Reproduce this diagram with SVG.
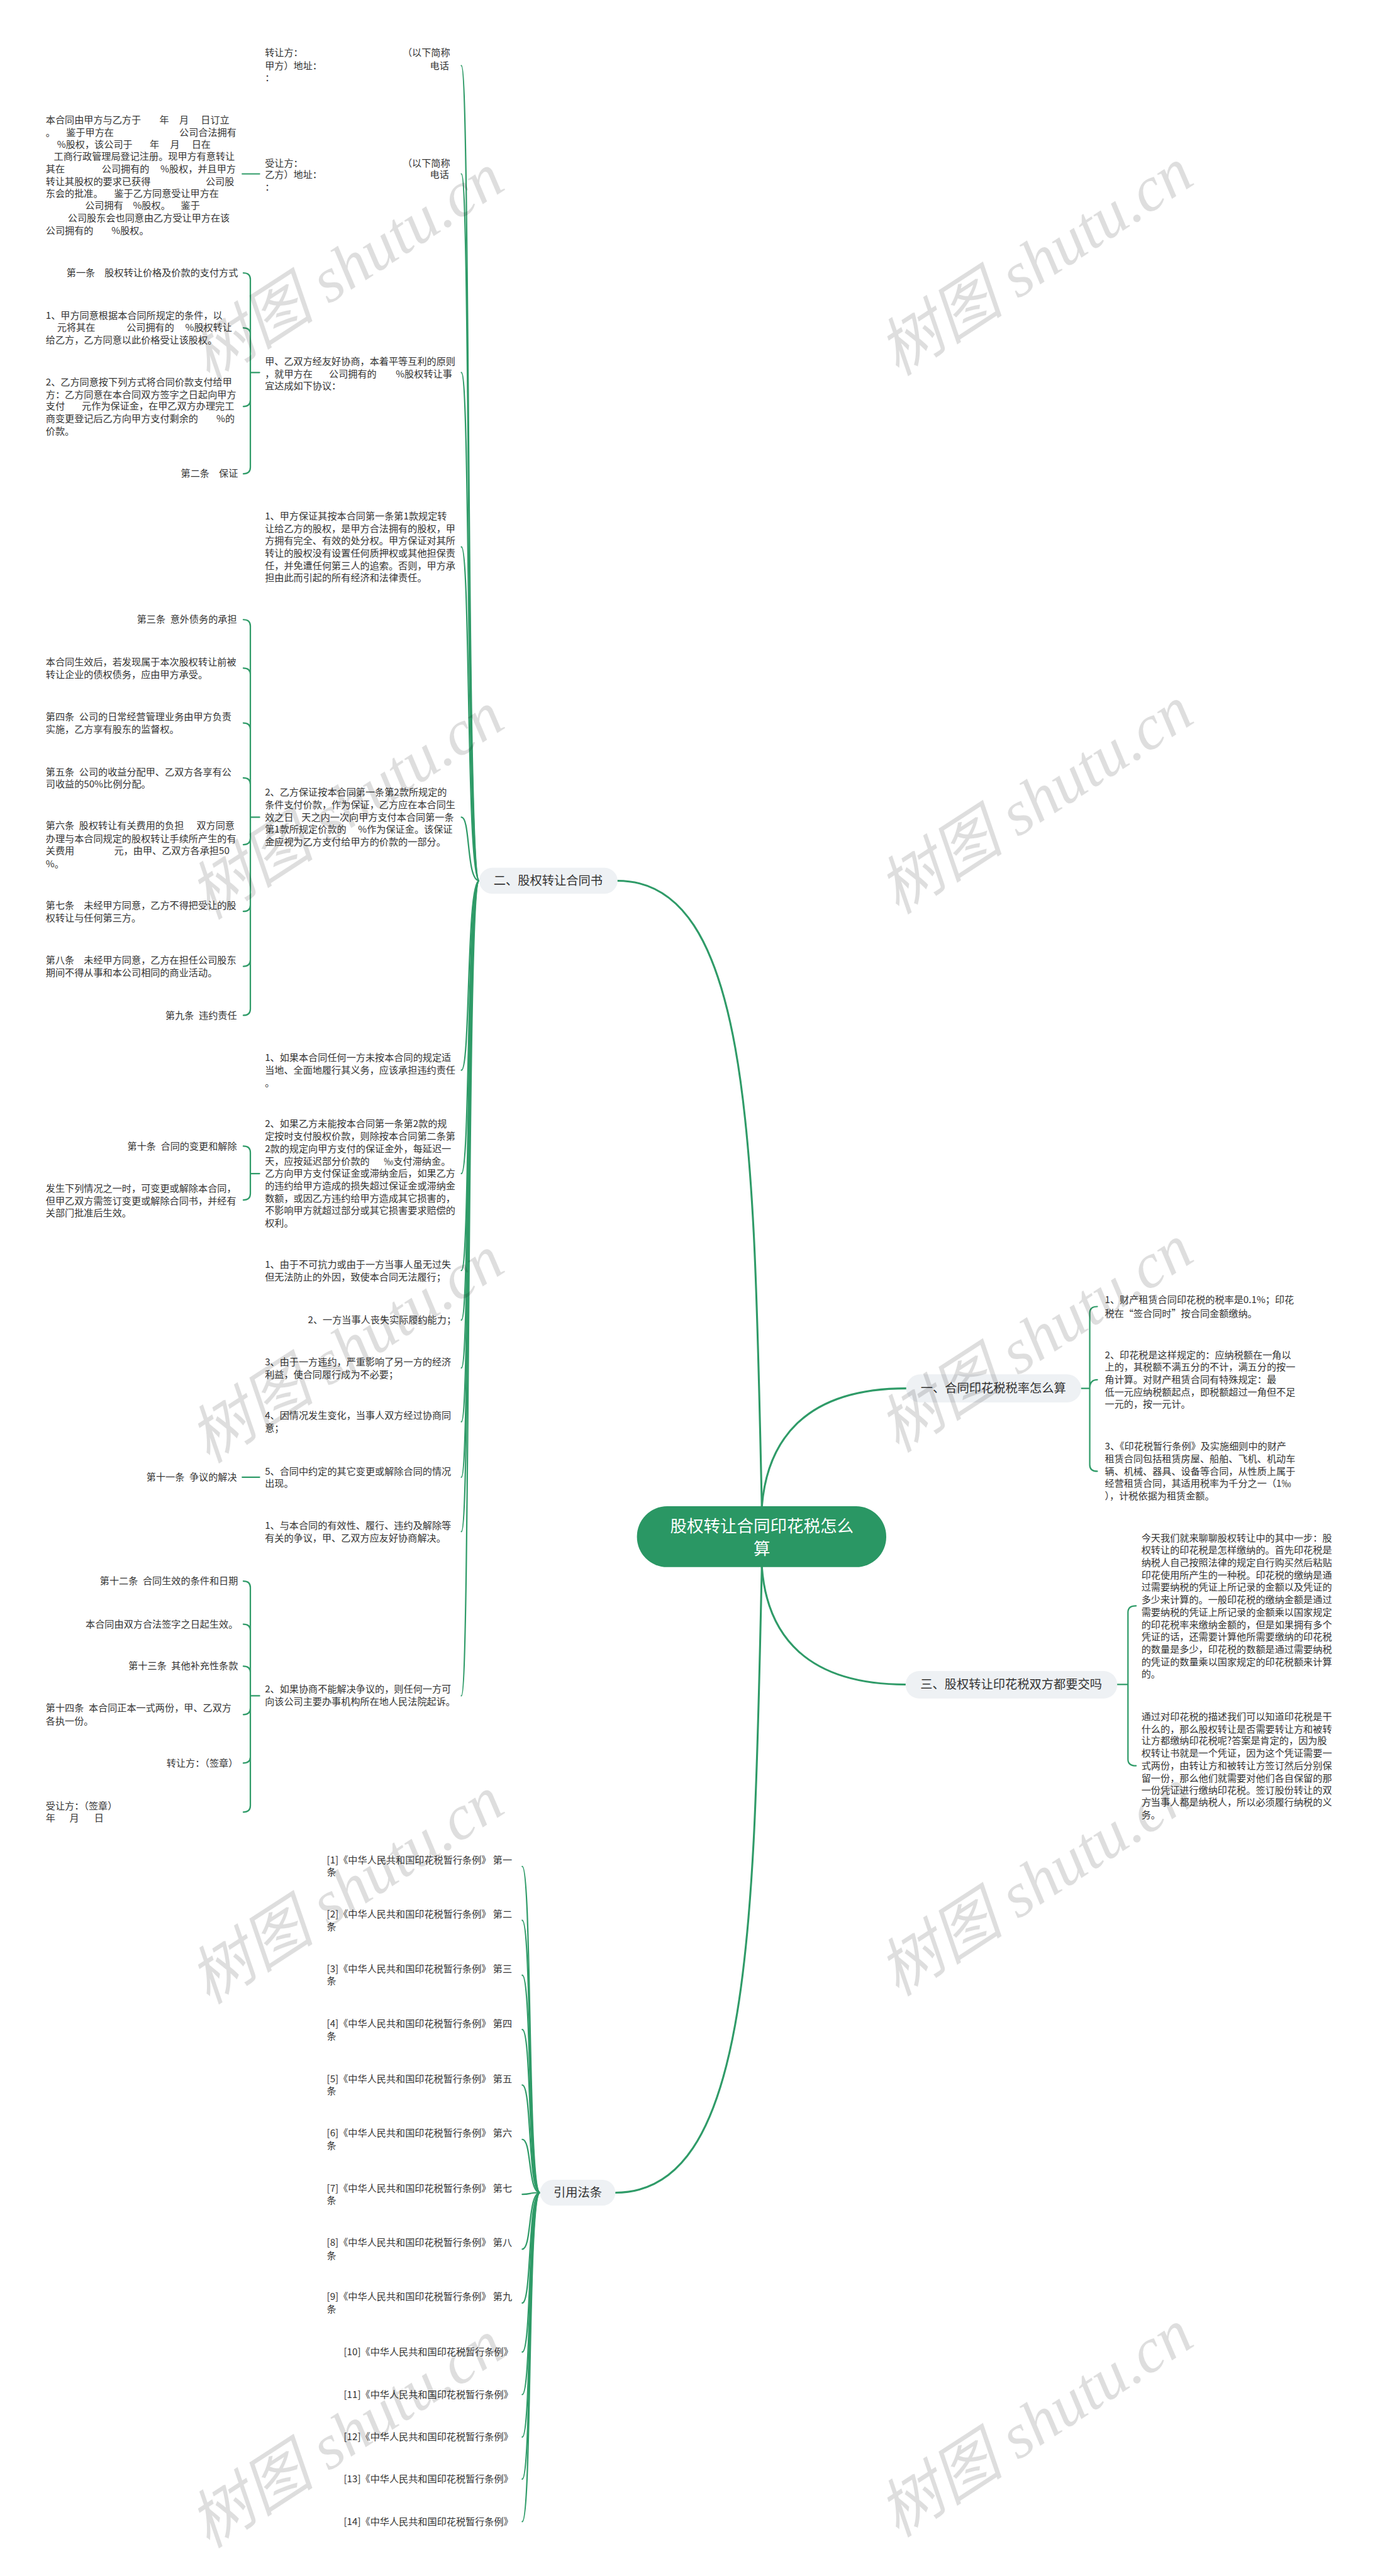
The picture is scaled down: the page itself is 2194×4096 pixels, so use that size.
<svg xmlns="http://www.w3.org/2000/svg" width="2194" height="4096" viewBox="0 0 2194 4096">
<style>
.t{font-family:"Noto Sans CJK SC","Noto Sans",sans-serif;font-size:17.7px;fill:#333}
.e{text-anchor:end}
.pl{fill:#eef1f4}
.pt{font-family:"Noto Sans CJK SC","Noto Sans",sans-serif;font-size:22.5px;fill:#333;text-anchor:middle}
.tt{font-family:"Noto Sans CJK SC","Noto Sans",sans-serif;font-size:31px;fill:#fff;text-anchor:middle}
.c{stroke:#2f9b68;stroke-width:2.6;fill:none;stroke-linecap:round}
.m{stroke-width:3.6}
.wm{font-family:"Liberation Serif","Noto Sans CJK SC",serif;font-size:118px;font-style:italic;fill:#000;fill-opacity:.13;text-anchor:middle}
</style>
<rect width="2194" height="4096" fill="#fff"/>
<g transform="scale(0.856)">
<g id="connectors">
<path class="c m" d="M1415 2798C1400 2150 1400 1636 1147 1636"/>
<path class="c m" d="M1415 2911C1400 3560 1400 4073 1143 4073"/>
<path class="c m" d="M1415 2798C1425 2680 1490 2579 1683 2579"/>
<path class="c m" d="M1415 2911C1425 3040 1500 3129 1682 3129"/>
<path class="c" d="M890 1636C866 1636 874 122 857 122"/>
<path class="c" d="M890 1636C866 1636 874 323 857 323"/>
<path class="c" d="M890 1636C866 1636 874 692 857 692"/>
<path class="c" d="M890 1636C866 1636 874 1016 857 1016"/>
<path class="c" d="M890 1636C866 1636 874 1518 857 1518"/>
<path class="c" d="M890 1636C866 1636 874 1988 857 1988"/>
<path class="c" d="M890 1636C866 1636 874 2180 857 2180"/>
<path class="c" d="M890 1636C866 1636 874 2360 857 2360"/>
<path class="c" d="M890 1636C866 1636 874 2452 857 2452"/>
<path class="c" d="M890 1636C866 1636 874 2541 857 2541"/>
<path class="c" d="M890 1636C866 1636 874 2641 857 2641"/>
<path class="c" d="M890 1636C866 1636 874 2744 857 2744"/>
<path class="c" d="M890 1636C866 1636 874 2845 857 2845"/>
<path class="c" d="M890 1636C866 1636 874 3150 857 3150"/>
<path class="c" d="M450 323H482"/>
<path class="c" d="M450 2744H482"/>
<path class="c" d="M482 692H465M465 692V519Q465 507 452 507M465 692V621Q465 609 452 609M465 692V743Q465 755 452 755M465 692V868Q465 880 452 880"/>
<path class="c" d="M482 1518H465M465 1518V1163Q465 1151 452 1151M465 1518V1253Q465 1241 452 1241M465 1518V1355Q465 1343 452 1343M465 1518V1457Q465 1445 452 1445M465 1518V1557Q465 1569 452 1569M465 1518V1681Q465 1693 452 1693M465 1518V1783Q465 1795 452 1795M465 1518V1874Q465 1886 452 1886"/>
<path class="c" d="M482 2180H465M465 2180V2141Q465 2129 452 2129M465 2180V2217Q465 2229 452 2229"/>
<path class="c" d="M482 3150H465M465 3150V2949Q465 2937 452 2937M465 3150V3029Q465 3017 452 3017M465 3150V3107Q465 3095 452 3095M465 3150V3173Q465 3185 452 3185M465 3150V3263Q465 3275 452 3275M465 3150V3354Q465 3366 452 3366"/>
<path class="c" d="M2008 2579H2024M2024 2579V2439Q2024 2427 2038 2427M2024 2579Q2024 2563 2038 2563M2024 2579V2721Q2024 2733 2038 2733"/>
<path class="c" d="M2075 3129H2095M2095 3129V2995Q2095 2983 2110 2983M2095 3129V3268Q2095 3280 2110 3280"/>
<path class="c" d="M1003 4073C980 4073 988 3467 970 3467"/>
<path class="c" d="M1003 4073C980 4073 988 3567 970 3567"/>
<path class="c" d="M1003 4073C980 4073 988 3669 970 3669"/>
<path class="c" d="M1003 4073C980 4073 988 3770 970 3770"/>
<path class="c" d="M1003 4073C980 4073 988 3873 970 3873"/>
<path class="c" d="M1003 4073C980 4073 988 3974 970 3974"/>
<path class="c" d="M1003 4073C980 4073 988 4076 970 4076"/>
<path class="c" d="M1003 4073C980 4073 988 4178 970 4178"/>
<path class="c" d="M1003 4073C980 4073 988 4278 970 4278"/>
<path class="c" d="M1003 4073C980 4073 988 4369 970 4369"/>
<path class="c" d="M1003 4073C980 4073 988 4448 970 4448"/>
<path class="c" d="M1003 4073C980 4073 988 4527 970 4527"/>
<path class="c" d="M1003 4073C980 4073 988 4605 970 4605"/>
<path class="c" d="M1003 4073C980 4073 988 4684 970 4684"/>
</g>

<g id="root">
<rect x="1183" y="2798" width="463" height="113" rx="56" fill="#2a9764"/>
<text class="tt" x="1415" y="2846">股权转让合同印花税怎么</text>
<text class="tt" x="1415" y="2888">算</text>
</g>
<g id="b2"><rect class="pl" x="890" y="1612" width="257" height="48" rx="24"/><text class="pt" x="1018" y="1644">二、股权转让合同书</text></g>
<g id="b1"><rect class="pl" x="1683" y="2553" width="325" height="52" rx="26"/><text class="pt" x="1845" y="2587">一、合同印花税税率怎么算</text></g>
<g id="b3"><rect class="pl" x="1682" y="3104" width="393" height="51" rx="25"/><text class="pt" x="1878" y="3137">三、股权转让印花税双方都要交吗</text></g>
<g id="b4"><rect class="pl" x="1003" y="4049" width="140" height="48" rx="24"/><text class="pt" x="1073" y="4081">引用法条</text></g>

<g id="n-a">
<text class="t" x="492" y="104">转让方：</text><text class="t e" x="836" y="104">（以下简称</text>
<text class="t" x="492" y="128">甲方）地址：</text><text class="t e" x="834" y="128">电话</text>
<text class="t" x="492" y="151">：</text>
</g>
<g id="n-b">
<text class="t" x="492" y="309">受让方：</text><text class="t e" x="836" y="309">（以下简称</text>
<text class="t" x="492" y="331">乙方）地址：</text><text class="t e" x="834" y="331">电话</text>
<text class="t" x="492" y="354">：</text>
</g>
<g id="n-c">
<text class="t" y="229"><tspan x="85">本合同由甲方与乙方于</tspan><tspan x="296">年</tspan><tspan x="333">月</tspan><tspan x="373">日订立</tspan></text>
<text class="t" y="252"><tspan x="85">。</tspan><tspan x="123">鉴于甲方在</tspan><tspan x="333">公司合法拥有</tspan></text>
<text class="t" y="274"><tspan x="106">%股权，该公司于</tspan><tspan x="278">年</tspan><tspan x="316">月</tspan><tspan x="356">日在</tspan></text>
<text class="t" x="100" y="297">工商行政管理局登记注册。现甲方有意转让</text>
<text class="t" y="320"><tspan x="85">其在</tspan><tspan x="189">公司拥有的</tspan><tspan x="298">%股权，并且甲方</tspan></text>
<text class="t" y="343"><tspan x="85">转让其股权的要求已获得</tspan><tspan x="382">公司股</tspan></text>
<text class="t" y="366"><tspan x="85">东会的批准。</tspan><tspan x="212">鉴于乙方同意受让甲方在</tspan></text>
<text class="t" y="388"><tspan x="158">公司拥有</tspan><tspan x="247">%股权。</tspan><tspan x="336">鉴于</tspan></text>
<text class="t" x="126" y="411">公司股东会也同意由乙方受让甲方在该</text>
<text class="t" y="434"><tspan x="85">公司拥有的</tspan><tspan x="207">%股权。</tspan></text>
</g>
<g id="n-d">
<text class="t" x="492" y="678">甲、乙双方经友好协商，本着平等互利的原则</text>
<text class="t" y="701"><tspan x="492">，就甲方在</tspan><tspan x="611">公司拥有的</tspan><tspan x="735">%股权转让事</tspan></text>
<text class="t" x="492" y="723">宜达成如下协议：</text>
</g>
<g id="n-d1"><text class="t e" x="442" y="513">第一条　股权转让价格及价款的支付方式</text></g>
<g id="n-d2">
<text class="t" x="85" y="592">1、甲方同意根据本合同所规定的条件，以</text>
<text class="t" y="615"><tspan x="106">元将其在</tspan><tspan x="235">公司拥有的</tspan><tspan x="344">%股权转让</tspan></text>
<text class="t" x="85" y="638">给乙方，乙方同意以此价格受让该股权。</text>
</g>
<g id="n-d3">
<text class="t" x="85" y="716">2、乙方同意按下列方式将合同价款支付给甲</text>
<text class="t" x="85" y="739">方：乙方同意在本合同双方签字之日起向甲方</text>
<text class="t" y="761"><tspan x="85">支付</tspan><tspan x="152">元作为保证金，在甲乙双方办理完工</tspan></text>
<text class="t" y="784"><tspan x="85">商变更登记后乙方向甲方支付剩余的</tspan><tspan x="402">%的</tspan></text>
<text class="t" x="85" y="807">价款。</text>
</g>
<g id="n-d4"><text class="t e" x="442" y="886">第二条　保证</text></g>
<g id="n-e">
<text class="t" x="492" y="965">1、甲方保证其按本合同第一条第1款规定转</text>
<text class="t" x="492" y="988">让给乙方的股权，是甲方合法拥有的股权，甲</text>
<text class="t" x="492" y="1011">方拥有完全、有效的处分权。甲方保证对其所</text>
<text class="t" x="492" y="1034">转让的股权没有设置任何质押权或其他担保责</text>
<text class="t" x="492" y="1057">任，并免遭任何第三人的追索。否则，甲方承</text>
<text class="t" x="492" y="1080">担由此而引起的所有经济和法律责任。</text>
</g>
<g id="n-f">
<text class="t" x="492" y="1478">2、乙方保证按本合同第一条第2款所规定的</text>
<text class="t" x="492" y="1501">条件支付价款，作为保证，乙方应在本合同生</text>
<text class="t" y="1524"><tspan x="492">效之日</tspan><tspan x="560">天之内一次向甲方支付本合同第一条</tspan></text>
<text class="t" y="1547"><tspan x="492">第1款所规定价款的</tspan><tspan x="665">%作为保证金。该保证</tspan></text>
<text class="t" x="492" y="1570">金应视为乙方支付给甲方的价款的一部分。</text>
</g>
<g id="n-f1"><text class="t e" x="440" y="1157">第三条&#8194;意外债务的承担</text></g>
<g id="n-f2">
<text class="t" x="85" y="1236">本合同生效后，若发现属于本次股权转让前被</text>
<text class="t" x="85" y="1259">转让企业的债权债务，应由甲方承受。</text>
</g>
<g id="n-f3">
<text class="t" x="85" y="1338">第四条&#8194;公司的日常经营管理业务由甲方负责</text>
<text class="t" x="85" y="1361">实施，乙方享有股东的监督权。</text>
</g>
<g id="n-f4">
<text class="t" x="85" y="1440">第五条&#8194;公司的收益分配甲、乙双方各享有公</text>
<text class="t" x="85" y="1463">司收益的50%比例分配。</text>
</g>
<g id="n-f5">
<text class="t" y="1540"><tspan x="85">第六条&#8194;股权转让有关费用的负担</tspan><tspan x="365">双方同意</tspan></text>
<text class="t" x="85" y="1564">办理与本合同规定的股权转让手续所产生的有</text>
<text class="t" y="1587"><tspan x="85">关费用</tspan><tspan x="212">元，由甲、乙双方各承担50</tspan></text>
<text class="t" x="85" y="1611">%。</text>
</g>
<g id="n-f6">
<text class="t" x="85" y="1688">第七条　未经甲方同意，乙方不得把受让的股</text>
<text class="t" x="85" y="1711">权转让与任何第三方。</text>
</g>
<g id="n-f7">
<text class="t" x="85" y="1790">第八条　未经甲方同意，乙方在担任公司股东</text>
<text class="t" x="85" y="1813">期间不得从事和本公司相同的商业活动。</text>
</g>
<g id="n-f8"><text class="t e" x="440" y="1892">第九条&#8194;违约责任</text></g>
<g id="n-g">
<text class="t" x="492" y="1971">1、如果本合同任何一方未按本合同的规定适</text>
<text class="t" x="492" y="1994">当地、全面地履行其义务，应该承担违约责任</text>
<text class="t" x="492" y="2017">。</text>
</g>
<g id="n-h">
<text class="t" x="492" y="2094">2、如果乙方未能按本合同第一条第2款的规</text>
<text class="t" x="492" y="2117">定按时支付股权价款，则除按本合同第二条第</text>
<text class="t" x="492" y="2140">2款的规定向甲方支付的保证金外，每延迟一</text>
<text class="t" y="2163"><tspan x="492">天，应按延迟部分价款的</tspan><tspan x="713">‰支付滞纳金。</tspan></text>
<text class="t" x="492" y="2186">乙方向甲方支付保证金或滞纳金后，如果乙方</text>
<text class="t" x="492" y="2209">的违约给甲方造成的损失超过保证金或滞纳金</text>
<text class="t" x="492" y="2232">数额，或因乙方违约给甲方造成其它损害的，</text>
<text class="t" x="492" y="2255">不影响甲方就超过部分或其它损害要求赔偿的</text>
<text class="t" x="492" y="2278">权利。</text>
</g>
<g id="n-h1"><text class="t e" x="440" y="2135">第十条&#8194;合同的变更和解除</text></g>
<g id="n-h2">
<text class="t" x="85" y="2214">发生下列情况之一时，可变更或解除本合同，</text>
<text class="t" x="85" y="2237">但甲乙双方需签订变更或解除合同书，并经有</text>
<text class="t" x="85" y="2259">关部门批准后生效。</text>
</g>
<g id="n-i">
<text class="t" x="492" y="2355">1、由于不可抗力或由于一方当事人虽无过失</text>
<text class="t" x="492" y="2378">但无法防止的外因，致使本合同无法履行；</text>
</g>
<g id="n-j"><text class="t e" x="847" y="2458">2、一方当事人丧失实际履约能力；</text></g>
<g id="n-k">
<text class="t" x="492" y="2536">3、由于一方违约，严重影响了另一方的经济</text>
<text class="t" x="492" y="2559">利益，使合同履行成为不必要；</text>
</g>
<g id="n-l">
<text class="t" x="492" y="2636">4、因情况发生变化，当事人双方经过协商同</text>
<text class="t" x="492" y="2659">意；</text>
</g>
<g id="n-m">
<text class="t" x="492" y="2739">5、合同中约定的其它变更或解除合同的情况</text>
<text class="t" x="492" y="2762">出现。</text>
</g>
<g id="n-m1"><text class="t e" x="440" y="2750">第十一条&#8194;争议的解决</text></g>
<g id="n-n">
<text class="t" x="492" y="2840">1、与本合同的有效性、履行、违约及解除等</text>
<text class="t" x="492" y="2863">有关的争议，甲、乙双方应友好协商解决。</text>
</g>
<g id="n-o">
<text class="t" x="492" y="3144">2、如果协商不能解决争议的，则任何一方可</text>
<text class="t" x="492" y="3167">向该公司主要办事机构所在地人民法院起诉。</text>
</g>
<g id="n-o1"><text class="t e" x="442" y="2943">第十二条&#8194;合同生效的条件和日期</text></g>
<g id="n-o2"><text class="t e" x="442" y="3023">本合同由双方合法签字之日起生效。</text></g>
<g id="n-o3"><text class="t e" x="442" y="3101">第十三条&#8194;其他补充性条款</text></g>
<g id="n-o4">
<text class="t" x="85" y="3179">第十四条&#8194;本合同正本一式两份，甲、乙双方</text>
<text class="t" x="85" y="3203">各执一份。</text>
</g>
<g id="n-o5"><text class="t e" x="442" y="3281">转让方：（签章）</text></g>
<g id="n-o6">
<text class="t" x="85" y="3361">受让方：（签章）</text>
<text class="t" y="3383"><tspan x="85">年</tspan><tspan x="129">月</tspan><tspan x="175">日</tspan></text>
</g>

<g id="n-y1">
<text class="t" x="2052" y="2421">1、财产租赁合同印花税的税率是0.1%；印花</text>
<text class="t" x="2052" y="2446">税在“签合同时”按合同金额缴纳。</text>
</g>
<g id="n-y2">
<text class="t" x="2052" y="2523">2、印花税是这样规定的：应纳税额在一角以</text>
<text class="t" x="2052" y="2546">上的，其税额不满五分的不计，满五分的按一</text>
<text class="t" x="2052" y="2569">角计算。对财产租赁合同有特殊规定：最</text>
<text class="t" x="2052" y="2592">低一元应纳税额起点，即税额超过一角但不足</text>
<text class="t" x="2052" y="2615">一元的，按一元计。</text>
</g>
<g id="n-y3">
<text class="t" x="2052" y="2693">3、《印花税暂行条例》及实施细则中的财产</text>
<text class="t" x="2052" y="2716">租赁合同包括租赁房屋、船舶、飞机、机动车</text>
<text class="t" x="2052" y="2739">辆、机械、器具、设备等合同，从性质上属于</text>
<text class="t" x="2052" y="2762">经营租赁合同，其适用税率为千分之一（1‰</text>
<text class="t" x="2052" y="2785">），计税依据为租赁金额。</text>
</g>
<g id="n-s1">
<text class="t" x="2120" y="2863">今天我们就来聊聊股权转让中的其中一步：股</text>
<text class="t" x="2120" y="2886">权转让的印花税是怎样缴纳的。首先印花税是</text>
<text class="t" x="2120" y="2909">纳税人自己按照法律的规定自行购买然后粘贴</text>
<text class="t" x="2120" y="2932">印花使用所产生的一种税。印花税的缴纳是通</text>
<text class="t" x="2120" y="2955">过需要纳税的凭证上所记录的金额以及凭证的</text>
<text class="t" x="2120" y="2978">多少来计算的。一般印花税的缴纳金额是通过</text>
<text class="t" x="2120" y="3001">需要纳税的凭证上所记录的金额乘以国家规定</text>
<text class="t" x="2120" y="3024">的印花税率来缴纳金额的，但是如果拥有多个</text>
<text class="t" x="2120" y="3047">凭证的话，还需要计算他所需要缴纳的印花税</text>
<text class="t" x="2120" y="3070">的数量是多少，印花税的数额是通过需要纳税</text>
<text class="t" x="2120" y="3093">的凭证的数量乘以国家规定的印花税额来计算</text>
<text class="t" x="2120" y="3116">的。</text>
</g>
<g id="n-s2">
<text class="t" x="2120" y="3195">通过对印花税的描述我们可以知道印花税是干</text>
<text class="t" x="2120" y="3218">什么的，那么股权转让是否需要转让方和被转</text>
<text class="t" x="2120" y="3240">让方都缴纳印花税呢?答案是肯定的，因为股</text>
<text class="t" x="2120" y="3263">权转让书就是一个凭证，因为这个凭证需要一</text>
<text class="t" x="2120" y="3286">式两份，由转让方和被转让方签订然后分别保</text>
<text class="t" x="2120" y="3309">留一份，那么他们就需要对他们各自保留的那</text>
<text class="t" x="2120" y="3332">一份凭证进行缴纳印花税。签订股份转让的双</text>
<text class="t" x="2120" y="3354">方当事人都是纳税人，所以必须履行纳税的义</text>
<text class="t" x="2120" y="3377">务。</text>
</g>

<g id="n-l1"><text class="t" x="607" y="3462">[1]《中华人民共和国印花税暂行条例》 第一</text><text class="t" x="607" y="3484">条</text></g>
<g id="n-l2"><text class="t" x="607" y="3562">[2]《中华人民共和国印花税暂行条例》 第二</text><text class="t" x="607" y="3585">条</text></g>
<g id="n-l3"><text class="t" x="607" y="3664">[3]《中华人民共和国印花税暂行条例》 第三</text><text class="t" x="607" y="3686">条</text></g>
<g id="n-l4"><text class="t" x="607" y="3765">[4]《中华人民共和国印花税暂行条例》 第四</text><text class="t" x="607" y="3788">条</text></g>
<g id="n-l5"><text class="t" x="607" y="3868">[5]《中华人民共和国印花税暂行条例》 第五</text><text class="t" x="607" y="3890">条</text></g>
<g id="n-l6"><text class="t" x="607" y="3969">[6]《中华人民共和国印花税暂行条例》 第六</text><text class="t" x="607" y="3992">条</text></g>
<g id="n-l7"><text class="t" x="607" y="4071">[7]《中华人民共和国印花税暂行条例》 第七</text><text class="t" x="607" y="4093">条</text></g>
<g id="n-l8"><text class="t" x="607" y="4172">[8]《中华人民共和国印花税暂行条例》 第八</text><text class="t" x="607" y="4196">条</text></g>
<g id="n-l9"><text class="t" x="607" y="4272">[9]《中华人民共和国印花税暂行条例》 第九</text><text class="t" x="607" y="4296">条</text></g>
<g id="n-l10"><text class="t e" x="953" y="4375">[10]《中华人民共和国印花税暂行条例》</text></g>
<g id="n-l11"><text class="t e" x="953" y="4454">[11]《中华人民共和国印花税暂行条例》</text></g>
<g id="n-l12"><text class="t e" x="953" y="4533">[12]《中华人民共和国印花税暂行条例》</text></g>
<g id="n-l13"><text class="t e" x="953" y="4611">[13]《中华人民共和国印花税暂行条例》</text></g>
<g id="n-l14"><text class="t e" x="953" y="4690">[14]《中华人民共和国印花税暂行条例》</text></g>

<g id="watermarks">
<text class="wm" transform="translate(665 530) rotate(-33)">树图 shutu.cn</text>
<text class="wm" transform="translate(1945 520) rotate(-33)">树图 shutu.cn</text>
<text class="wm" transform="translate(665 1530) rotate(-33)">树图 shutu.cn</text>
<text class="wm" transform="translate(1945 1520) rotate(-33)">树图 shutu.cn</text>
<text class="wm" transform="translate(665 2540) rotate(-33)">树图 shutu.cn</text>
<text class="wm" transform="translate(1945 2520) rotate(-33)">树图 shutu.cn</text>
<text class="wm" transform="translate(665 3545) rotate(-33)">树图 shutu.cn</text>
<text class="wm" transform="translate(1945 3530) rotate(-33)">树图 shutu.cn</text>
<text class="wm" transform="translate(665 4555) rotate(-33)">树图 shutu.cn</text>
<text class="wm" transform="translate(1945 4535) rotate(-33)">树图 shutu.cn</text>
</g>
</g>
</svg>
